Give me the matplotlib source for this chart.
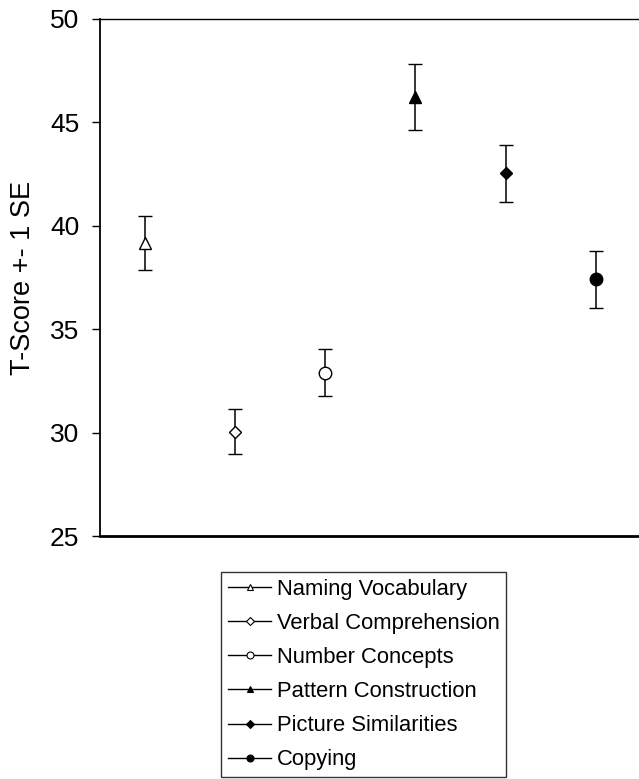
import matplotlib
matplotlib.use("Agg")
import matplotlib.pyplot as plt
from matplotlib.lines import Line2D

plt.rcParams['font.family'] = ['Liberation Sans', 'DejaVu Sans']

subtests = ["Naming Vocabulary", "Verbal Comprehension", "Number Concepts",
            "Pattern Construction", "Picture Similarities", "Copying"]
means = [39.15, 30.05, 32.9, 46.22, 42.55, 37.42]
se = [1.3, 1.1, 1.15, 1.6, 1.38, 1.38]
markers = ["^", "D", "o", "^", "D", "o"]
filled = [False, False, False, True, True, True]
yticks = [25, 30, 35, 40, 45, 50]

fig = plt.figure(figsize=(6.39, 7.79), dpi=100)
ax = fig.add_axes([100/639, 1 - 536/779, 1 - 100/639, (536 - 19)/779])

msize = {"^": 9, "D": 6.5, "o": 9}
for i, (m, s, mk, f) in enumerate(zip(means, se, markers, filled)):
    ax.errorbar(i + 1, m, yerr=s, fmt=mk, color="black", ecolor="black",
                elinewidth=1.1, capsize=4.8, capthick=1.1,
                markersize=msize[mk], markerfacecolor="black" if f else "white",
                markeredgecolor="black", markeredgewidth=1.0, zorder=3)

ax.set_xlim(0.5, 6.48)
ax.set_ylim(25, 50)
ax.set_yticks(yticks)
ax.set_xticks([])
ax.tick_params(axis="y", labelsize=19, length=6, width=1, direction="out", pad=9)
ax.spines["right"].set_visible(False)
ax.spines["left"].set_linewidth(1.3)
ax.spines["top"].set_linewidth(1.0)
ax.spines["bottom"].set_linewidth(2.0)
ax.set_ylabel("T-Score +- 1 SE", fontsize=19.5, labelpad=10)

handles = []
lsize = {"^": 5, "D": 4, "o": 5}
for mk, f in zip(markers, filled):
    handles.append(Line2D([0], [0], color="black", lw=1.0, marker=mk,
                          markersize=lsize[mk],
                          markerfacecolor="black" if f else "white",
                          markeredgecolor="black", markeredgewidth=0.8))
leg = fig.legend(handles, subtests, loc="upper left",
                 bbox_to_anchor=(221/639, 1 - 572/779),
                 frameon=True, fancybox=False, fontsize=15.8,
                 handlelength=2.0, handletextpad=0.25, labelspacing=0.6,
                 borderpad=0.3, borderaxespad=0, edgecolor="black")
leg.get_frame().set_linewidth(1.0)

fig.savefig("out.png", dpi=100)
